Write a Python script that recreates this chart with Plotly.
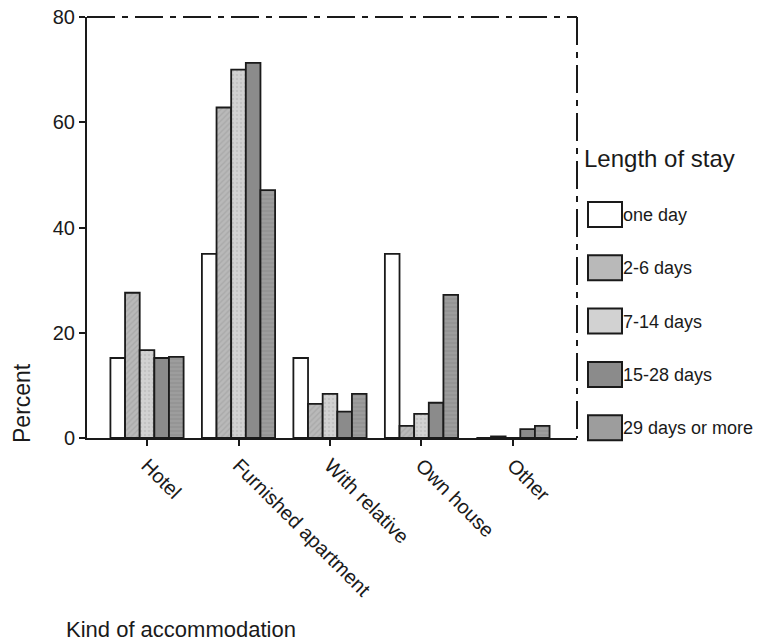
import plotly.graph_objects as go

# data
categories = ["Hotel", "Furnished apartment", "With relative", "Own house", "Other"]
stay_names = ["one day", "2-6 days", "7-14 days", "15-28 days", "29 days or more"]

one_day = [15.2, 35.0, 15.2, 35.0, 0.0]
days_2_6 = [27.6, 62.8, 6.5, 2.3, 0.3]
days_7_14 = [16.7, 70.0, 8.4, 4.6, 0.0]
days_15_28 = [15.2, 71.3, 5.0, 6.7, 1.7]
days_29_more = [15.4, 47.1, 8.4, 27.2, 2.3]

y_ticks = [0, 20, 40, 60, 80]

series = [one_day, days_2_6, days_7_14, days_15_28, days_29_more]
fills = ["#ffffff", "#b9b9b9", "#d2d2d2", "#8b8b8b", "#9d9d9d"]
patterns = ["", "/", ".", "", "-"]
pat_fg = ["#ffffff", "#9a9a9a", "#b4b4b4", "#8b8b8b", "#858585"]

W, H = 765, 642
L, R, T, B = 87, 577, 17, 438
FONT = "Liberation Sans, Arial, sans-serif"
INK = "#1a1a1a"
FRAME_DASH = "28px,7px,6px,7px"


def px(x):
    return (x - L) / (R - L)


def py(y):
    return (B - y) / (B - T)


fig = go.Figure()
for name, vals, fc, pat, fg in zip(stay_names, series, fills, patterns, pat_fg):
    fig.add_trace(
        go.Bar(
            x=list(range(len(categories))),
            y=vals,
            name=name,
            marker=dict(
                color=fc,
                line=dict(color=INK, width=1.8),
                pattern=dict(shape=pat, fgcolor=fg, bgcolor=fc, size=4, solidity=0.35),
            ),
            showlegend=False,
        )
    )

shapes = [
    # dash-dot frame on top and right
    dict(type="line", xref="paper", yref="paper", x0=0, x1=1, y0=1, y1=1,
         line=dict(color=INK, width=2, dash=FRAME_DASH)),
    dict(type="line", xref="paper", yref="paper", x0=1, x1=1, y0=1, y1=0,
         line=dict(color=INK, width=2, dash=FRAME_DASH)),
]
annotations = [
    dict(text="Length of stay", x=px(582), y=py(158), xref="paper", yref="paper",
         xanchor="left", yanchor="middle", showarrow=False,
         font=dict(size=24, color=INK, family=FONT)),
    dict(text="Percent", x=px(22), y=py(403), xref="paper", yref="paper",
         xanchor="center", yanchor="middle", textangle=-90, showarrow=False,
         font=dict(size=23, color=INK, family=FONT)),
    dict(text="Kind of accommodation", x=px(64), y=py(629), xref="paper", yref="paper",
         xanchor="left", yanchor="middle", showarrow=False,
         font=dict(size=22, color=INK, family=FONT)),
]

# hand-drawn legend with big boxes
for i, (name, fc) in enumerate(zip(stay_names, fills)):
    top = 202 + i * 53.3
    shapes.append(dict(type="rect", xref="paper", yref="paper",
                       x0=px(588), x1=px(622), y0=py(top + 25), y1=py(top),
                       fillcolor=fc, line=dict(color=INK, width=2)))
    annotations.append(dict(text=name, x=px(621), y=py(top + 13), xref="paper", yref="paper",
                            xanchor="left", yanchor="middle", showarrow=False,
                            font=dict(size=18, color=INK, family=FONT)))

fig.update_layout(
    width=W,
    height=H,
    barmode="group",
    bargap=0.2,
    bargroupgap=0,
    plot_bgcolor="white",
    paper_bgcolor="white",
    margin=dict(l=L, r=W - R, t=T, b=H - B, pad=0),
    font=dict(family=FONT, color=INK, size=16),
    shapes=shapes,
    annotations=annotations,
)
fig.update_xaxes(
    tickmode="array",
    tickvals=list(range(len(categories))),
    ticktext=categories,
    tickangle=45,
    range=[-0.656, 4.70],
    automargin=False,
    showline=True,
    linecolor=INK,
    linewidth=2,
    ticks="outside",
    ticklen=6,
    tickwidth=2,
    tickcolor=INK,
    showgrid=False,
    zeroline=False,
    tickfont=dict(size=20, color=INK, family=FONT),
)
fig.update_yaxes(
    range=[0, 80],
    tickvals=y_ticks,
    automargin=False,
    showline=True,
    linecolor=INK,
    linewidth=2,
    ticks="outside",
    ticklen=6,
    tickwidth=2,
    tickcolor=INK,
    showgrid=False,
    zeroline=False,
    ticklabeloverflow="allow",
    tickfont=dict(size=20, color=INK, family=FONT),
)

# drop the default body margin so the chart sits at the page corner
fig.write_html(
    "out.html",
    config={"displayModeBar": False},
    post_script="document.body.style.margin = '0';",
)
